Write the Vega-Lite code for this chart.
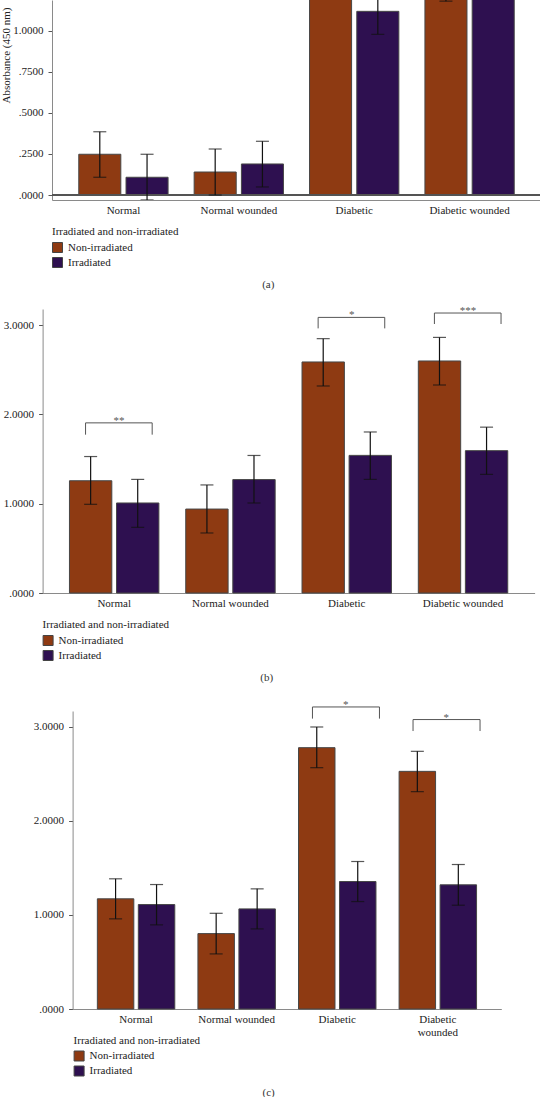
{
"$schema": "https://vega.github.io/schema/vega-lite/v6.json",
"padding": 0,
"background": "white",
"spacing": 15,
"resolve": {"scale": {"color": "independent", "x": "independent", "y": "independent", "xOffset": "independent"}, "legend": {"color": "independent"}},
"datasets": {
"a": [
{"group":"Normal","series":"Non-irradiated","value":0.248,"lo":0.108,"hi":0.385},
{"group":"Normal","series":"Irradiated","value":0.108,"lo":-0.03,"hi":0.248},
{"group":"Normal wounded","series":"Non-irradiated","value":0.14,"lo":0.0,"hi":0.28},
{"group":"Normal wounded","series":"Irradiated","value":0.189,"lo":0.049,"hi":0.327},
{"group":"Diabetic","series":"Non-irradiated","value":1.42,"lo":1.28,"hi":1.56},
{"group":"Diabetic","series":"Irradiated","value":1.118,"lo":0.978,"hi":1.258},
{"group":"Diabetic wounded","series":"Non-irradiated","value":1.32,"lo":1.18,"hi":1.46},
{"group":"Diabetic wounded","series":"Irradiated","value":1.36,"lo":1.22,"hi":1.5}
],
"b": [
{"group":"Normal","series":"Non-irradiated","value":1.257,"lo":0.993,"hi":1.528},
{"group":"Normal","series":"Irradiated","value":1.008,"lo":0.735,"hi":1.272},
{"group":"Normal wounded","series":"Non-irradiated","value":0.94,"lo":0.672,"hi":1.21},
{"group":"Normal wounded","series":"Irradiated","value":1.27,"lo":1.008,"hi":1.54},
{"group":"Diabetic","series":"Non-irradiated","value":2.587,"lo":2.318,"hi":2.848},
{"group":"Diabetic","series":"Irradiated","value":1.541,"lo":1.272,"hi":1.803},
{"group":"Diabetic wounded","series":"Non-irradiated","value":2.598,"lo":2.329,"hi":2.862},
{"group":"Diabetic wounded","series":"Irradiated","value":1.594,"lo":1.328,"hi":1.857}
],
"bb": [
{"group":"Normal","top":1.905,"bottom":1.773,"sig":"**"},
{"group":"Diabetic","top":3.086,"bottom":2.963,"sig":"*"},
{"group":"Diabetic wounded","top":3.135,"bottom":3.012,"sig":"***"}
],
"c": [
{"group":"Normal","series":"Non-irradiated","value":1.172,"lo":0.959,"hi":1.385},
{"group":"Normal","series":"Irradiated","value":1.111,"lo":0.895,"hi":1.324},
{"group":"Normal wounded","series":"Non-irradiated","value":0.802,"lo":0.586,"hi":1.018},
{"group":"Normal wounded","series":"Irradiated","value":1.065,"lo":0.852,"hi":1.278},
{"group":"Diabetic","series":"Non-irradiated","value":2.78,"lo":2.567,"hi":3.0},
{"group":"Diabetic","series":"Irradiated","value":1.356,"lo":1.143,"hi":1.569},
{"group":"Diabetic wounded","series":"Non-irradiated","value":2.528,"lo":2.312,"hi":2.741},
{"group":"Diabetic wounded","series":"Irradiated","value":1.321,"lo":1.104,"hi":1.537}
],
"bc": [
{"group":"Diabetic","top":3.213,"bottom":3.089,"sig":"*"},
{"group":"Diabetic wounded","top":3.079,"bottom":2.957,"sig":"*"}
]
},
"vconcat": [
{
"width": 489, "height": 200,
"title": {"text": "(a)", "offset": 9, "dx": -2.5},
"data": {"name": "a"},
"layer": [
{"mark": {"type": "bar", "stroke": "#474747", "strokeWidth": 1, "clip": true},
 "encoding": {
  "x": {"field": "group", "type": "nominal", "title": null, "scale": {"domain": ["Normal","Normal wounded","Diabetic","Diabetic wounded"], "paddingInner": 0.226, "paddingOuter": 0.232}, "axis": {"labelAngle": 0, "ticks": false, "labelPadding": 4}},
  "xOffset": {"field": "series", "type": "nominal", "scale": {"domain": ["Non-irradiated","Irradiated"], "paddingInner": 0.11, "paddingOuter": 0}},
  "y": {"field": "value", "type": "quantitative", "title": "Absorbance (450 nm)", "scale": {"domain": [-0.0304, 1.187], "nice": false, "zero": false}, "axis": {"values": [0,0.25,0.5,0.75,1], "labelExpr": "datum.value < 1 ? substring(format(datum.value, '.4f'), 1) : format(datum.value, '.4f')", "titleY": 55, "titlePadding": 3, "minExtent": 38, "maxExtent": 38}},
  "color": {"field": "series", "type": "nominal", "scale": {"domain": ["Non-irradiated","Irradiated"], "range": ["#8e3a12","#2e1050"]}, "legend": {"title": "Irradiated and non-irradiated"}}
 }},
{"mark": {"type": "rule", "color": "#555555", "strokeWidth": 1},
 "encoding": {"y": {"datum": 0, "type": "quantitative", "title": "Absorbance (450 nm)"}}},
{"mark": {"type": "rule", "color": "#111111", "strokeWidth": 1.2, "clip": true},
 "encoding": {
  "x": {"field": "group", "type": "nominal", "title": null},
  "xOffset": {"field": "series", "type": "nominal"},
  "y": {"field": "lo", "type": "quantitative", "title": "Absorbance (450 nm)"},
  "y2": {"field": "hi"}
 }},
{"mark": {"type": "tick", "color": "#111111", "size": 13, "thickness": 1.2, "clip": true},
 "encoding": {
  "x": {"field": "group", "type": "nominal", "title": null},
  "xOffset": {"field": "series", "type": "nominal"},
  "y": {"field": "lo", "type": "quantitative", "title": "Absorbance (450 nm)"}
 }},
{"mark": {"type": "tick", "color": "#111111", "size": 13, "thickness": 1.2, "clip": true},
 "encoding": {
  "x": {"field": "group", "type": "nominal", "title": null},
  "xOffset": {"field": "series", "type": "nominal"},
  "y": {"field": "hi", "type": "quantitative", "title": "Absorbance (450 nm)"}
 }}
]
},
{
"width": 483, "height": 284,
"title": {"text": "(b)", "offset": 9, "dx": -7},
"layer": [
{"data": {"name": "b"},
 "mark": {"type": "bar", "stroke": "#474747", "strokeWidth": 1},
 "encoding": {
  "x": {"field": "group", "type": "nominal", "title": null, "scale": {"domain": ["Normal","Normal wounded","Diabetic","Diabetic wounded"], "range": [-9.4, 482.6], "paddingInner": 0.231, "paddingOuter": 0.231}, "axis": {"labelAngle": 0, "ticks": false, "labelPadding": 4}},
  "xOffset": {"field": "series", "type": "nominal", "scale": {"domain": ["Non-irradiated","Irradiated"], "paddingInner": 0.1, "paddingOuter": 0}},
  "y": {"field": "value", "type": "quantitative", "title": null, "scale": {"domain": [0, 3.18], "nice": false}, "axis": {"values": [0,1,2,3], "offset": 9.4, "labelExpr": "datum.value < 1 ? substring(format(datum.value, '.4f'), 1) : format(datum.value, '.4f')"}},
  "color": {"field": "series", "type": "nominal", "scale": {"domain": ["Non-irradiated","Irradiated"], "range": ["#8e3a12","#2e1050"]}, "legend": {"title": "Irradiated and non-irradiated", "orient": "none", "legendX": -9.4, "legendY": 310}}
 }},
{"data": {"name": "b"},
 "mark": {"type": "rule", "color": "#111111", "strokeWidth": 1.2},
 "encoding": {
  "x": {"field": "group", "type": "nominal", "title": null},
  "xOffset": {"field": "series", "type": "nominal"},
  "y": {"field": "lo", "type": "quantitative", "title": null},
  "y2": {"field": "hi"}
 }},
{"data": {"name": "b"},
 "mark": {"type": "tick", "color": "#111111", "size": 13, "thickness": 1.2},
 "encoding": {
  "x": {"field": "group", "type": "nominal", "title": null},
  "xOffset": {"field": "series", "type": "nominal"},
  "y": {"field": "lo", "type": "quantitative", "title": null}
 }},
{"data": {"name": "b"},
 "mark": {"type": "tick", "color": "#111111", "size": 13, "thickness": 1.2},
 "encoding": {
  "x": {"field": "group", "type": "nominal", "title": null},
  "xOffset": {"field": "series", "type": "nominal"},
  "y": {"field": "hi", "type": "quantitative", "title": null}
 }},
{"data": {"name": "bb"},
 "mark": {"type": "rule", "color": "#555555", "strokeWidth": 1},
 "encoding": {
  "x": {"field": "group", "type": "nominal", "title": null, "bandPosition": 0.18},
  "x2": {"field": "group", "bandPosition": 0.925},
  "y": {"field": "top", "type": "quantitative", "title": null}
 }},
{"data": {"name": "bb"},
 "mark": {"type": "rule", "color": "#555555", "strokeWidth": 1},
 "encoding": {
  "x": {"field": "group", "type": "nominal", "title": null, "bandPosition": 0.18},
  "y": {"field": "top", "type": "quantitative", "title": null},
  "y2": {"field": "bottom"}
 }},
{"data": {"name": "bb"},
 "mark": {"type": "rule", "color": "#555555", "strokeWidth": 1},
 "encoding": {
  "x": {"field": "group", "type": "nominal", "title": null, "bandPosition": 0.925},
  "y": {"field": "top", "type": "quantitative", "title": null},
  "y2": {"field": "bottom"}
 }},
{"data": {"name": "bb"},
 "mark": {"type": "text", "font": "Liberation Serif", "fontSize": 11, "color": "#555555", "baseline": "alphabetic", "dy": 1},
 "encoding": {
  "x": {"field": "group", "type": "nominal", "title": null, "bandPosition": 0.555},
  "y": {"field": "top", "type": "quantitative", "title": null},
  "text": {"field": "sig"}
 }}
]
},
{
"width": 450, "height": 298,
"title": {"text": "(c)", "offset": 8, "dx": 1},
"layer": [
{"data": {"name": "c"},
 "mark": {"type": "bar", "stroke": "#474747", "strokeWidth": 1},
 "encoding": {
  "x": {"field": "group", "type": "nominal", "title": null, "scale": {"domain": ["Normal","Normal wounded","Diabetic","Diabetic wounded"], "range": [20.6, 449.3], "paddingInner": 0.23, "paddingOuter": 0.246}, "axis": {"labelAngle": 0, "ticks": false, "labelPadding": 4, "labelLineHeight": 13, "labelExpr": "datum.value == 'Diabetic wounded' ? ['Diabetic', 'wounded'] : datum.label"}},
  "xOffset": {"field": "series", "type": "nominal", "scale": {"domain": ["Non-irradiated","Irradiated"], "paddingInner": 0.11, "paddingOuter": 0}},
  "y": {"field": "value", "type": "quantitative", "title": null, "scale": {"domain": [0, 3.17], "nice": false}, "axis": {"values": [0,1,2,3], "offset": -20.6, "labelExpr": "datum.value < 1 ? substring(format(datum.value, '.4f'), 1) : format(datum.value, '.4f')"}},
  "color": {"field": "series", "type": "nominal", "scale": {"domain": ["Non-irradiated","Irradiated"], "range": ["#8e3a12","#2e1050"]}, "legend": {"title": "Irradiated and non-irradiated", "orient": "none", "legendX": 21.6, "legendY": 323.5}}
 }},
{"data": {"name": "c"},
 "mark": {"type": "rule", "color": "#111111", "strokeWidth": 1.2},
 "encoding": {
  "x": {"field": "group", "type": "nominal", "title": null},
  "xOffset": {"field": "series", "type": "nominal"},
  "y": {"field": "lo", "type": "quantitative", "title": null},
  "y2": {"field": "hi"}
 }},
{"data": {"name": "c"},
 "mark": {"type": "tick", "color": "#111111", "size": 13, "thickness": 1.2},
 "encoding": {
  "x": {"field": "group", "type": "nominal", "title": null},
  "xOffset": {"field": "series", "type": "nominal"},
  "y": {"field": "lo", "type": "quantitative", "title": null}
 }},
{"data": {"name": "c"},
 "mark": {"type": "tick", "color": "#111111", "size": 13, "thickness": 1.2},
 "encoding": {
  "x": {"field": "group", "type": "nominal", "title": null},
  "xOffset": {"field": "series", "type": "nominal"},
  "y": {"field": "hi", "type": "quantitative", "title": null}
 }},
{"data": {"name": "bc"},
 "mark": {"type": "rule", "color": "#555555", "strokeWidth": 1},
 "encoding": {
  "x": {"field": "group", "type": "nominal", "title": null, "bandPosition": 0.18},
  "x2": {"field": "group", "bandPosition": 1.045},
  "y": {"field": "top", "type": "quantitative", "title": null}
 }},
{"data": {"name": "bc"},
 "mark": {"type": "rule", "color": "#555555", "strokeWidth": 1},
 "encoding": {
  "x": {"field": "group", "type": "nominal", "title": null, "bandPosition": 0.18},
  "y": {"field": "top", "type": "quantitative", "title": null},
  "y2": {"field": "bottom"}
 }},
{"data": {"name": "bc"},
 "mark": {"type": "rule", "color": "#555555", "strokeWidth": 1},
 "encoding": {
  "x": {"field": "group", "type": "nominal", "title": null, "bandPosition": 1.045},
  "y": {"field": "top", "type": "quantitative", "title": null},
  "y2": {"field": "bottom"}
 }},
{"data": {"name": "bc"},
 "mark": {"type": "text", "font": "Liberation Serif", "fontSize": 11, "color": "#555555", "baseline": "alphabetic", "dy": 1},
 "encoding": {
  "x": {"field": "group", "type": "nominal", "title": null, "bandPosition": 0.61},
  "y": {"field": "top", "type": "quantitative", "title": null},
  "text": {"field": "sig"}
 }}
]
}
],
"config": {
"font": "Liberation Serif",
"view": {"stroke": null},
"axis": {"grid": false, "labelFont": "Liberation Serif", "labelFontSize": 11, "labelColor": "#222222", "domainColor": "#8a8a8a", "domainWidth": 1, "tickColor": "#555555", "tickSize": 4, "labelPadding": 5, "titleFont": "Liberation Serif", "titleFontSize": 11, "titleFontWeight": "normal", "titleColor": "#222222"},
"legend": {"orient": "bottom", "direction": "vertical", "titleFont": "Liberation Serif", "titleFontSize": 11, "titleFontWeight": "normal", "titleColor": "#222222", "labelFont": "Liberation Serif", "labelFontSize": 11, "labelColor": "#222222", "symbolType": "square", "symbolSize": 100, "symbolStrokeColor": "#444444", "symbolStrokeWidth": 1, "symbolOpacity": 1, "rowPadding": 0, "titlePadding": 5, "offset": 11, "labelOffset": 5},
"title": {"font": "Liberation Serif", "fontSize": 11, "fontWeight": "normal", "color": "#333333", "orient": "bottom", "anchor": "middle", "frame": "bounds", "offset": 10}
}
}
